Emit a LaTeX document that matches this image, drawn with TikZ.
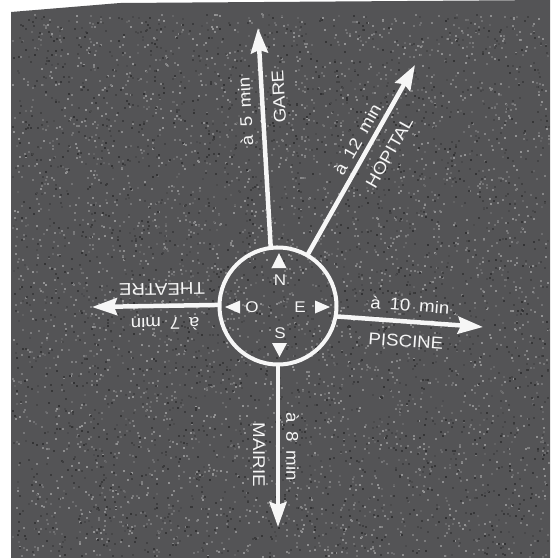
\documentclass[tikz,border=0pt]{standalone}
\usepackage{fontspec}
\newfontfamily\labfont[FakeStretch=1.1,WordSpace=1.7]{Liberation Sans}
\usetikzlibrary{arrows.meta}
\definecolor{asphalt}{RGB}{84,84,86}
\definecolor{chalk}{RGB}{246,246,246}
\tikzset{
  road/.style={draw=chalk, line width=4.5pt, shorten <=-1.5pt,
    -{Stealth[length=25pt,width=17pt,inset=3pt]}},
  lab/.style={text=chalk, font=\labfont\fontsize{17}{19}\selectfont,
    sloped, allow upside down, inner sep=0pt},
  cardinal/.style={text=chalk, font=\labfont\fontsize{15.5}{17}\selectfont, inner sep=0pt},
  tri/.style={fill=chalk, draw=none},
}
\begin{document}
\begin{tikzpicture}[x=1pt,y=-1pt]
\useasboundingbox (0,0) rectangle (550,558);
\fill[white] (0,0) rectangle (550,558);
\fill[asphalt] (11,12) -- (120,3) -- (550,0) -- (550,558) -- (11,558) -- cycle;
% texture
\pgfmathsetseed{7}
\foreach \i in {1,...,3500}{
  \pgfmathsetmacro\px{12+536*rnd}
  \pgfmathsetmacro\py{13+543*rnd}
  \pgfmathtruncatemacro\sh{8+30*rnd}
  \fill[white!\sh!asphalt] (\px,\py) rectangle ++(2,2);
}
\foreach \i in {1,...,2500}{
  \pgfmathsetmacro\px{12+536*rnd}
  \pgfmathsetmacro\py{13+543*rnd}
  \pgfmathtruncatemacro\sh{10+30*rnd}
  \fill[black!\sh!asphalt] (\px,\py) rectangle ++(2,2);
}
% compass
\node[circle, draw=chalk, line width=4pt, minimum size=117pt, inner sep=0pt] (c) at (278,306) {};
\fill[tri] (279,253) -- (271.5,268) -- (286.5,268) -- cycle;
\fill[tri] (279.5,357) -- (272,343) -- (287,343) -- cycle;
\fill[tri] (225,307) -- (240,300.5) -- (240,313.5) -- cycle;
\fill[tri] (330,307) -- (315,300.5) -- (315,313.5) -- cycle;
\node[cardinal] (n) at (280,280) {N};
\node[cardinal] (o) at (252,307.5) {O};
\node[cardinal] (e) at (300,307) {E};
\node[cardinal] (s) at (280,333) {S};
% tips
\coordinate (gare) at (258,28);
\coordinate (hop) at (415,65);
\coordinate (the) at (92,307);
\coordinate (pis) at (483,327);
\coordinate (mai) at (278,527);
% arrows
\draw[road] (c.97) -- (gare)
  node[lab, pos=0.62, above=9pt] (t5) {à 5 min}
  node[lab, pos=0.68, below=8.5pt] (tgare) {GARE};
\draw[road] (c.60) -- (hop)
  node[lab, pos=0.57, above=5pt] (t12) {à 12 min}
  node[lab, pos=0.59, below=12.5pt] (thop) {HOPITAL};
\draw[road] (c.179) -- (the)
  node[lab, pos=0.42, above=9.5pt] (t7) {à 7 min}
  node[lab, pos=0.44, below=8.5pt] (tthe) {THEATRE};
\draw[road] (c.-10) -- (pis)
  node[lab, pos=0.49, above=8pt] (t10) {à 10 min}
  node[lab, pos=0.48, below=11.5pt] (tpis) {PISCINE};
\draw[road] (c.-90) -- (mai)
  node[lab, pos=0.50, above=6pt] (t8) {à 8 min}
  node[lab, pos=0.55, below=11pt] (tmai) {MAIRIE};
\end{tikzpicture}
\end{document}
